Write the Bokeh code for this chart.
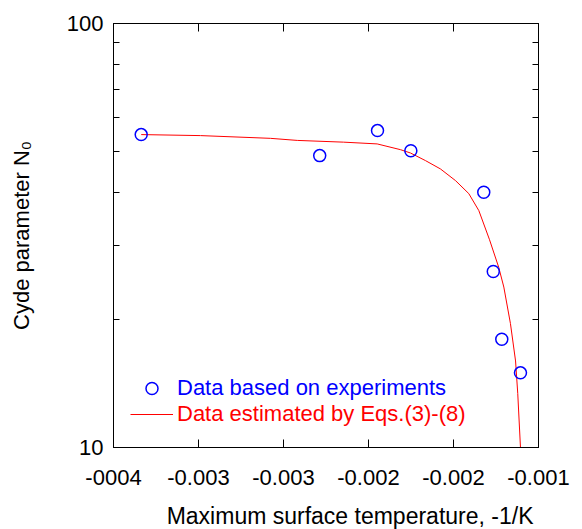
from bokeh.plotting import figure
from bokeh.models import (Range1d, FixedTicker, CustomJSTickFormatter, LinearAxis, LogAxis,
                          Legend, LegendItem, Title)
from bokeh.embed import file_html
from bokeh.resources import INLINE
from bokeh.core.properties import value

# ---- data ----
exp_x = [-0.003337, -0.002287, -0.001947, -0.001751, -0.001322, -0.001266, -0.001216, -0.001106]
exp_n0 = [54.7, 48.8, 55.9, 50.1, 40.0, 26.0, 18.0, 15.0]

est_x = [-0.003337, -0.002988, -0.002577, -0.002419, -0.002147, -0.001949, -0.001812,
         -0.001753, -0.001665, -0.001577, -0.001488, -0.001410, -0.001351, -0.001288,
         -0.001234, -0.001204, -0.001165, -0.001135, -0.001122, -0.001106]
est_n0 = [54.7, 54.4, 53.6, 53.0, 52.5, 52.0, 50.4, 49.5, 47.5, 45.4, 42.6, 39.7, 36.2,
          30.9, 26.6, 23.9, 19.6, 16.0, 13.4, 10.0]

x_ticks = [-0.0035, -0.003, -0.0025, -0.002, -0.0015, -0.001]
x_tick_labels = ["-0004", "-0.003", "-0.003", "-0.002", "-0.002", "-0.001"]
y_ticks = [10, 100]
y_tick_labels = ["10", "100"]
y_minor_ticks = [20, 30, 40, 50, 60, 70, 80, 90]

series_labels = ["Data based on experiments", "Data estimated by Eqs.(3)-(8)"]
x_title = "Maximum surface temperature, -1/K"
y_title = "Cyde parameter N\u2080"

FONT = "Liberation Sans"

p = figure(width=574, height=529,
           x_range=Range1d(x_ticks[0], x_ticks[-1]),
           y_range=Range1d(y_ticks[0], y_ticks[-1]),
           y_axis_type="log",
           output_backend="svg", toolbar_location=None,
           min_border_left=113, min_border_right=36,
           min_border_top=23, min_border_bottom=82)
p.xgrid.visible = False
p.ygrid.visible = False
p.outline_line_color = "black"
p.background_fill_color = "white"
p.border_fill_color = "white"

fmt_code = """
let best = 0, bd = 1e99;
for (let i = 0; i < tvals.length; i++) {
  const d = Math.abs(tvals[i] - tick);
  if (d < bd) { bd = d; best = i; }
}
return tlabels[best];
"""
xfmt = CustomJSTickFormatter(args=dict(tvals=x_ticks, tlabels=x_tick_labels), code=fmt_code)
yfmt = CustomJSTickFormatter(args=dict(tvals=y_ticks, tlabels=y_tick_labels), code=fmt_code)
blank = CustomJSTickFormatter(code="return '';")

xticker = FixedTicker(ticks=x_ticks, minor_ticks=[])
yticker = FixedTicker(ticks=y_ticks, minor_ticks=y_minor_ticks)


def style_axis(ax, labels=True):
    ax.axis_line_color = "black"
    ax.axis_line_width = 1
    ax.major_tick_line_color = "black"
    ax.minor_tick_line_color = "black"
    ax.major_tick_in = 8
    ax.major_tick_out = 0
    ax.minor_tick_in = 6
    ax.minor_tick_out = 0
    ax.major_label_text_font = FONT
    ax.major_label_text_color = "black"
    if labels:
        ax.major_label_text_font_size = "22px"
    else:
        ax.major_label_text_font_size = "0px"
        ax.major_label_standoff = 0


xa = p.xaxis[0]
xa.ticker = xticker
xa.formatter = xfmt
style_axis(xa)
xa.major_label_standoff = 22

ya = p.yaxis[0]
ya.ticker = yticker
ya.formatter = yfmt
style_axis(ya)
ya.major_label_standoff = 10
ya.axis_label = y_title
ya.axis_label_text_font = FONT
ya.axis_label_text_font_size = "22px"
ya.axis_label_text_font_style = "normal"
ya.axis_label_text_color = "black"
ya.axis_label_standoff = 30

top = LinearAxis(ticker=xticker, formatter=blank)
style_axis(top, labels=False)
p.add_layout(top, "above")

right = LogAxis(ticker=yticker, formatter=blank)
style_axis(right, labels=False)
p.add_layout(right, "right")

# invisible spacer between tick labels and the x title
spacer = LinearAxis(ticker=xticker, formatter=blank)
style_axis(spacer, labels=False)
spacer.axis_line_color = None
spacer.major_tick_line_color = "white"
spacer.major_tick_in = 0
spacer.major_tick_out = 13
p.add_layout(spacer, "below")

# x-axis title, offset to the right as in the source
p.add_layout(Title(text=x_title, align="right", offset=5, vertical_align="bottom",
                   text_font=FONT, text_font_size="23px", text_font_style="normal",
                   text_color="black", standoff=0), "below")

r_est = p.line(est_x, est_n0, line_color="#ff0000", line_width=1)
r_exp = p.scatter(exp_x, exp_n0, marker="circle", size=12, fill_color=None,
                  line_color="#0000ff", line_width=1.5)


def make_legend(label, rend, color, loc, gh):
    lg = Legend(items=[LegendItem(label=value(label), renderers=[rend])], location=loc,
                padding=0, margin=0, spacing=0, border_line_color=None,
                background_fill_alpha=0, label_text_font=FONT, label_text_font_size="22px",
                label_text_color=color, glyph_width=43, glyph_height=gh,
                label_height=gh, label_standoff=4)
    return lg


p.add_layout(make_legend(series_labels[0], r_exp, "#0000ff", (17, 44), 30))
p.add_layout(make_legend(series_labels[1], r_est, "#ff0000", (17, 20), 26))

open("out.html", "w").write(file_html(p, INLINE))
